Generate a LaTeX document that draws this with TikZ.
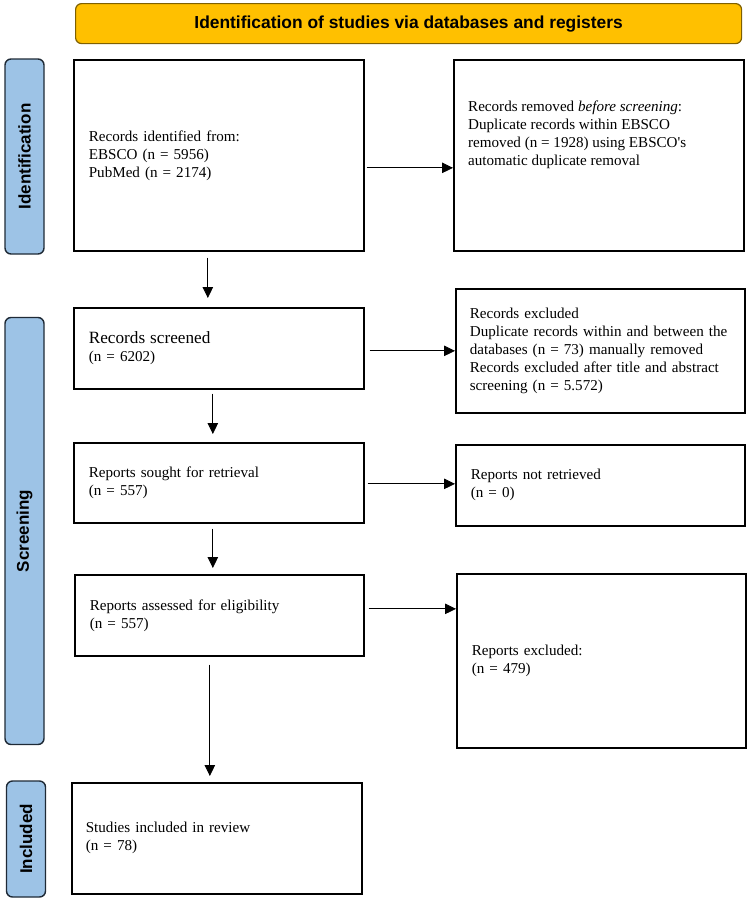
\documentclass[tikz,border=0pt]{standalone}
\usepackage{fontspec}
\setmainfont{Liberation Serif}
\newfontfamily\hfont{Liberation Sans}
\usetikzlibrary{arrows.meta,calc}
\definecolor{hdrfill}{HTML}{FFC000}
\definecolor{hdrline}{HTML}{7F6000}
\definecolor{sidefill}{HTML}{9DC3E6}
\definecolor{sideline}{HTML}{1F2A36}
\tikzset{
  txtfont/.style={font=\fontsize{15.1}{18}\selectfont},
  box/.style={draw=black, line width=1.7pt, rectangle, anchor=north west, inner xsep=15pt, inner ysep=0pt, align=left, txtfont},
  side/.style={draw=sideline, fill=sidefill, line width=1.4pt, rounded corners=6pt, rotate=90, minimum height=39pt, inner sep=0pt, font=\hfont\bfseries\fontsize{17}{20}\selectfont},
  hdr/.style={draw=hdrline, fill=hdrfill, line width=1.2pt, rounded corners=6pt, anchor=north west, inner sep=0pt, font=\hfont\bfseries\fontsize{17.4}{20}\selectfont},
  arr/.style={draw=black, line width=0.8pt, -{Triangle[length=11pt,width=10.5pt]}},
}
\begin{document}
\begin{tikzpicture}[x=1pt,y=-1pt]
\useasboundingbox (0,0) rectangle (749,902);
% header
\node[hdr, minimum width=666pt, minimum height=40pt] (hd) at (75,3) {Identification of studies via databases and registers};
% side labels
\node[side, minimum width=195pt] (s1) at (24.5,156.5) {Identification};
\node[side, minimum width=427pt] (s2) at (24.5,531) {Screening};
\node[side, minimum width=116pt] (s3) at (26,839) {Included};
% boxes
\node[box, minimum width=290pt, minimum height=191pt, text width=260pt] (b1) at (73,59) {Records identified from:\\EBSCO (n = 5956)\\PubMed (n = 2174)};
\node[box, minimum width=290pt, minimum height=191pt] (b2) at (453,59) {};
\node[anchor=north west, inner sep=0pt, align=left, txtfont] (t2) at ($(b2.north west)+(15,42)$) {Records removed \textit{before screening}:\\Duplicate records within EBSCO\\removed (n = 1928) using EBSCO\textquotesingle s\\automatic duplicate removal};
\node[box, minimum width=290pt, minimum height=81pt, text width=260pt] (b3) at (73,307) {{\fontsize{17.2}{18}\selectfont Records screened}\\(n = 6202)};
\node[box, minimum width=289pt, minimum height=124pt, text width=261pt, inner xsep=14pt] (b4) at (455,288) {Records excluded\\Duplicate records within and between the\\databases (n = 73) manually removed\\Records excluded after title and abstract\\screening (n = 5.572)};
\node[box, minimum width=290pt, minimum height=80pt, text width=260pt] (b5) at (73,442) {Reports sought for retrieval\\(n = 557)};
\node[box, minimum width=289pt, minimum height=81pt, text width=259pt] (b6) at (455,444) {Reports not retrieved\\(n = 0)};
\node[box, minimum width=289pt, minimum height=81pt, text width=259pt] (b8) at (74,574) {Reports assessed for eligibility\\(n = 557)};
\node[box, minimum width=289pt, minimum height=174pt, text width=259pt] (b7) at (456,573) {Reports excluded:\\(n = 479)};
\node[box, minimum width=290pt, minimum height=111pt, text width=262pt, inner xsep=14pt] (b9) at (71,782) {Studies included in review\\(n = 78)};
% horizontal arrows
\draw[arr, shorten <=2pt] ([yshift=-12.5pt]b1.east) -- ([yshift=-12.5pt]b2.west);
\draw[arr, shorten <=5pt] ([yshift=-2.5pt]b3.east) -- ([yshift=-2.5pt]b3.east -| b4.west);
\draw[arr, shorten <=3pt] ([yshift=-1pt]b5.east) -- ([yshift=-1pt]b5.east -| b6.west);
\draw[arr, shorten <=4pt] ([yshift=6.5pt]b8.east) -- ([yshift=6.5pt]b8.east -| b7.west);
% vertical arrows
\draw[arr, shorten <=6pt, shorten >=9pt] ([xshift=-11pt]b1.south) -- ([xshift=-11pt]b1.south |- b3.north);
\draw[arr, shorten <=4pt, shorten >=8pt] ([xshift=-6pt]b3.south) -- ([xshift=-6pt]b3.south |- b5.north);
\draw[arr, shorten <=5pt, shorten >=6pt] ([xshift=-6pt]b5.south) -- ([xshift=-6pt]b5.south |- b8.north);
\draw[arr, shorten <=8pt, shorten >=6pt] ([xshift=-9.5pt]b8.south) -- ([xshift=-9.5pt]b8.south |- b9.north);
\end{tikzpicture}
\end{document}
